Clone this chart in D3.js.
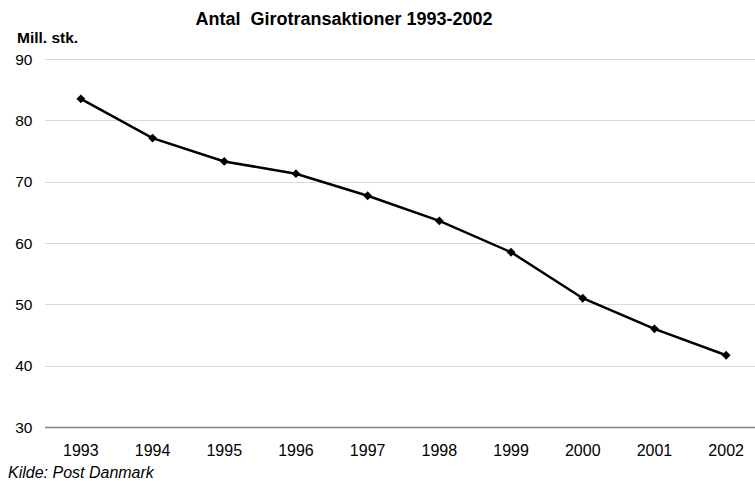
<!DOCTYPE html>
<html>
<head>
<meta charset="utf-8">
<script src="https://cdn.jsdelivr.net/npm/d3@7"></script>
<style>
  body { margin: 0; background: #fff; }
  text { font-family: "Liberation Sans", Arial, sans-serif; fill: #000; }
</style>
</head>
<body>
<div id="chart"></div>
<script>
const years = ["1993", "1994", "1995", "1996", "1997", "1998", "1999", "2000", "2001", "2002"];
const values = [83.5, 77.1, 73.3, 71.3, 67.7, 63.6, 58.5, 51.0, 46.0, 41.7];
const yTicks = [30, 40, 50, 60, 70, 80, 90];

let w = 755,
    h = 481,
    margin = ({ top: 59, right: -7, bottom: 54, left: 45 });

const svg = d3.select("#chart")
  .append("svg")
  .attr("width", w)
  .attr("height", h);

let x = d3.scaleBand()
  .domain(years)
  .range([margin.left, w - margin.right]);

let y = d3.scaleLinear()
  .domain([30, 90])
  .range([h - margin.bottom, margin.top]);

// gridlines
svg.append("g")
  .selectAll("line")
  .data(yTicks.filter(d => d > 30))
  .join("line")
  .attr("x1", margin.left)
  .attr("x2", w)
  .attr("y1", d => Math.round(y(d)) + 0.5)
  .attr("y2", d => Math.round(y(d)) + 0.5)
  .attr("stroke", "#d9d9d9")
  .attr("stroke-width", 1);

// y labels
svg.append("g")
  .selectAll("text")
  .data(yTicks)
  .join("text")
  .attr("x", 32.5)
  .attr("y", d => y(d) + 5.5)
  .attr("text-anchor", "end")
  .style("font-size", "15.5px")
  .text(d => d);

// x axis line
svg.append("line")
  .attr("x1", margin.left)
  .attr("x2", w)
  .attr("y1", Math.round(y(30)) + 0.5)
  .attr("y2", Math.round(y(30)) + 0.5)
  .attr("stroke", "#808080")
  .attr("stroke-width", 1.5);

// x labels
svg.append("g")
  .selectAll("text")
  .data(years)
  .join("text")
  .attr("x", d => x(d) + x.bandwidth() / 2)
  .attr("y", 456)
  .attr("text-anchor", "middle")
  .style("font-size", "16px")
  .text(d => d);

const pts = years.map((yr, i) => [x(yr) + x.bandwidth() / 2, y(values[i])]);

svg.append("path")
  .datum(pts)
  .attr("fill", "none")
  .attr("stroke", "#000")
  .attr("stroke-width", 2.5)
  .attr("d", d3.line());

svg.append("g")
  .selectAll("path")
  .data(pts)
  .join("path")
  .attr("transform", d => `translate(${d[0]},${d[1]})`)
  .attr("d", d3.symbol(d3.symbolDiamond2, 50))
  .attr("fill", "#000");

svg.append("text")
  .attr("x", 344)
  .attr("y", 25)
  .attr("text-anchor", "middle")
  .attr("xml:space", "preserve")
  .style("white-space", "pre")
  .style("font-size", "18px")
  .style("font-weight", "bold")
  .text("Antal  Girotransaktioner 1993-2002");

svg.append("text")
  .attr("x", 17)
  .attr("y", 43)
  .style("font-size", "15.5px")
  .style("font-weight", "bold")
  .text("Mill. stk.");

svg.append("text")
  .attr("x", 8)
  .attr("y", 478)
  .style("font-size", "16px")
  .style("font-style", "italic")
  .text("Kilde: Post Danmark");
</script>
</body>
</html>
